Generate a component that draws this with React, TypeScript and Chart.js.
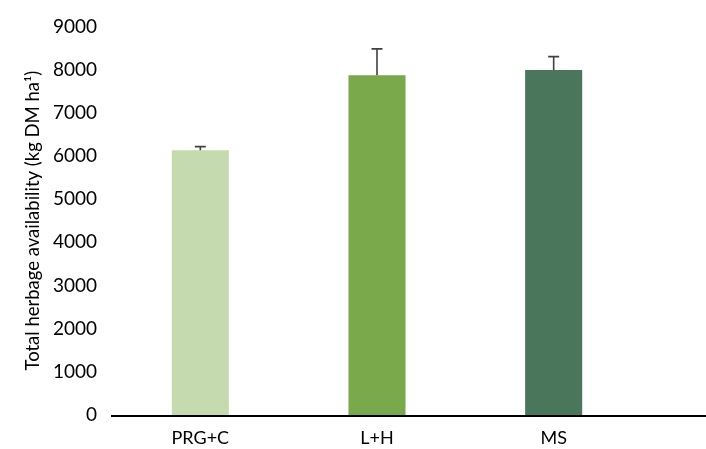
import React, { useEffect, useRef } from "react";
import { Chart, registerables } from "chart.js";

Chart.register(...registerables);

const categories = ["PRG+C", "L+H", "MS"];
const herbageValues = [6130, 7870, 7990];
const herbageErrors = [85, 610, 310];
const barColors = ["#c5dbaf", "#79a94a", "#4a775b"];
const yTicks = [0, 1000, 2000, 3000, 4000, 5000, 6000, 7000, 8000, 9000];
const yTitle = "Total herbage availability (kg DM ha\u00B9)";

const FONT = "Lato, 'Open Sans', sans-serif";

const errorBarPlugin = {
  id: "errorBars",
  afterDatasetsDraw(chart: any) {
    const ctx = chart.ctx;
    const meta = chart.getDatasetMeta(0);
    const yScale = chart.scales.y;
    ctx.save();
    ctx.strokeStyle = "#404040";
    ctx.lineWidth = 1.6;
    meta.data.forEach((bar: any, i: number) => {
      const x = bar.x;
      const yTop = yScale.getPixelForValue(herbageValues[i] + herbageErrors[i]);
      const yBase = yScale.getPixelForValue(herbageValues[i]);
      ctx.beginPath();
      ctx.moveTo(x, yBase);
      ctx.lineTo(x, yTop);
      ctx.moveTo(x - 5.5, yTop);
      ctx.lineTo(x + 5.5, yTop);
      ctx.stroke();
    });
    ctx.restore();
  },
};

const axisLinePlugin = {
  id: "axisLine",
  afterDraw(chart: any) {
    const ctx = chart.ctx;
    const y = chart.scales.y.getPixelForValue(0);
    ctx.save();
    ctx.strokeStyle = "#000";
    ctx.lineWidth = 2;
    ctx.beginPath();
    ctx.moveTo(chart.chartArea.left - 1, y + 1);
    ctx.lineTo(chart.width, y + 1);
    ctx.stroke();
    ctx.restore();
  },
};

export default function App() {
  const ref = useRef<HTMLCanvasElement>(null);
  useEffect(() => {
    if (!ref.current) return;
    const chart = new Chart(ref.current, {
      type: "bar",
      data: {
        labels: categories,
        datasets: [
          {
            data: herbageValues,
            backgroundColor: barColors,
            borderWidth: 0,
            barPercentage: 0.323,
            categoryPercentage: 1,
          },
        ],
      },
      options: {
        animation: false,
        responsive: false,
        maintainAspectRatio: false,
        layout: { padding: { top: 24, right: 64, left: 0, bottom: 0 } },
        plugins: {
          legend: { display: false },
          tooltip: { enabled: false },
        },
        scales: {
          x: {
            grid: { display: false, drawTicks: false },
            border: { display: false },
            ticks: {
              color: "#000",
              font: { family: FONT, size: 18 },
              padding: 12,
            },
            afterFit: (s: any) => {
              s.height = 34;
            },
          },
          y: {
            min: 0,
            max: 9000,
            grid: { display: false, drawTicks: false },
            border: { display: false },
            afterBuildTicks: (s: any) => {
              s.ticks = yTicks.map((v) => ({ value: v }));
            },
            ticks: {
              color: "#000",
              font: { family: FONT, size: 19 },
              padding: 15,
              callback: (v: any) => String(v),
            },
            title: {
              display: true,
              text: yTitle,
              color: "#000",
              font: { family: FONT, size: 18.5 },
              padding: { top: 22, bottom: 0 },
            },
            afterFit: (s: any) => {
              s.width = 112;
            },
          },
        },
      },
      plugins: [errorBarPlugin, axisLinePlugin],
    });
    return () => chart.destroy();
  }, []);
  return (
    <div style={{ position: "fixed", left: 0, top: 0, width: 706, height: 449, background: "#fff" }}>
      <canvas ref={ref} width={706} height={449} />
    </div>
  );
}
